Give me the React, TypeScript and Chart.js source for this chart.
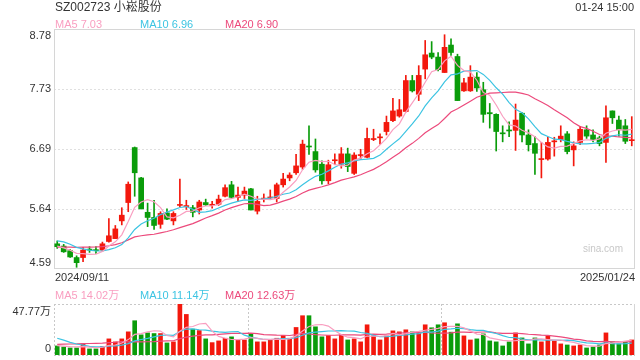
import React, { useEffect, useRef } from "react";
import { Chart, registerables } from "chart.js";
Chart.register(...registerables);

const FONT = '"Liberation Sans", Arial, "Noto Sans CJK SC", sans-serif';

const dates = [
  "2024/09/11","2024/09/12","2024/09/13","2024/09/18","2024/09/19","2024/09/20","2024/09/23","2024/09/24","2024/09/25","2024/09/26","2024/09/27","2024/09/30",
  "2024/10/08","2024/10/09","2024/10/10","2024/10/11","2024/10/14","2024/10/15","2024/10/16","2024/10/17","2024/10/18","2024/10/21","2024/10/22","2024/10/23","2024/10/24","2024/10/25","2024/10/28","2024/10/29","2024/10/30","2024/10/31",
  "2024/11/01","2024/11/04","2024/11/05","2024/11/06","2024/11/07","2024/11/08","2024/11/11","2024/11/12","2024/11/13","2024/11/14","2024/11/15","2024/11/18","2024/11/19","2024/11/20","2024/11/21","2024/11/22","2024/11/25","2024/11/26","2024/11/27","2024/11/28","2024/11/29",
  "2024/12/02","2024/12/03","2024/12/04","2024/12/05","2024/12/06","2024/12/09","2024/12/10","2024/12/11","2024/12/12","2024/12/13","2024/12/16","2024/12/17","2024/12/18","2024/12/19","2024/12/20","2024/12/23","2024/12/24","2024/12/25","2024/12/26","2024/12/27","2024/12/30","2024/12/31",
  "2025/01/02","2025/01/03","2025/01/06","2025/01/07","2025/01/08","2025/01/09","2025/01/10","2025/01/13","2025/01/14","2025/01/15","2025/01/16","2025/01/17","2025/01/20","2025/01/21","2025/01/22","2025/01/23","2025/01/24",
];

const opens = [
  5.03,4.99,4.91,4.79,4.79,4.93,4.92,4.92,5.07,5.12,5.43,5.75,6.71,6.18,5.58,5.49,5.37,5.57,5.43,5.70,
  5.68,5.66,5.62,5.75,5.70,5.72,5.86,6.06,5.84,5.88,5.99,5.60,5.81,5.83,5.82,6.06,6.18,6.27,6.37,6.73,
  6.64,6.42,6.13,6.48,6.42,6.60,6.26,6.57,6.54,6.85,6.88,6.99,7.18,7.26,7.34,7.88,7.64,8.08,8.36,8.29,
  8.02,8.50,8.30,7.70,7.70,7.94,7.72,7.32,7.29,6.96,7.01,7.01,7.31,6.93,6.78,6.50,6.51,6.81,6.85,6.95,
  6.67,6.80,7.02,6.93,6.88,6.80,7.35,7.19,7.09,6.83,
];
const highs = [
  5.08,5.02,4.93,4.82,4.97,4.98,4.98,5.06,5.47,5.35,5.66,6.11,6.72,6.19,5.74,5.79,5.59,5.64,5.59,6.16,
  5.79,5.70,5.79,5.81,5.77,5.88,6.06,6.12,6.02,6.02,6.00,5.86,5.90,5.97,6.09,6.26,6.27,6.59,6.84,7.09,
  6.86,6.48,6.49,6.60,6.71,6.70,6.62,6.68,7.05,7.03,6.95,7.26,7.57,7.55,7.97,7.97,8.14,8.58,8.56,8.37,
  8.68,8.61,8.34,7.92,8.14,8.02,7.85,7.48,7.30,7.09,7.16,7.47,7.32,7.02,6.90,6.80,6.89,6.89,7.09,6.99,
  6.81,7.08,7.09,7.02,6.91,7.44,7.35,7.26,7.20,7.25,
];
const lows = [
  4.95,4.88,4.79,4.62,4.72,4.88,4.86,4.90,5.06,5.12,5.36,5.59,5.86,5.64,5.33,5.28,5.30,5.45,5.36,5.68,
  5.63,5.50,5.55,5.70,5.65,5.70,5.85,5.82,5.77,5.82,5.62,5.55,5.76,5.81,5.76,6.02,6.13,6.24,6.33,6.59,
  6.28,6.07,6.08,6.41,6.35,6.29,6.24,6.50,6.53,6.83,6.77,6.93,7.16,7.24,7.33,7.68,7.53,7.91,8.26,8.05,
  8.02,8.32,7.53,7.69,7.69,7.69,7.15,7.05,6.65,6.81,6.90,6.66,6.81,6.65,6.24,6.18,6.49,6.56,6.81,6.60,
  6.39,6.76,6.87,6.81,6.74,6.45,7.13,6.91,6.78,6.74,
];
const closes = [
  4.98,4.89,4.80,4.70,4.92,4.92,4.91,5.03,5.17,5.29,5.53,6.07,6.27,5.64,5.49,5.35,5.56,5.46,5.56,5.71,
  5.69,5.58,5.76,5.71,5.72,5.81,6.01,5.84,5.88,5.95,5.62,5.77,5.82,5.84,6.06,6.16,6.23,6.39,6.77,6.72,
  6.32,6.13,6.41,6.49,6.60,6.38,6.58,6.58,6.87,6.86,6.89,7.15,7.35,7.37,7.88,7.70,7.97,8.33,8.29,8.07,
  8.46,8.37,7.53,7.84,7.94,7.75,7.29,7.30,6.99,6.95,7.00,7.19,6.93,6.76,6.61,6.51,6.80,6.82,6.91,6.64,
  6.74,7.03,6.91,6.85,6.78,7.23,7.23,7.02,6.82,6.84,
];
// volume, 万股
const volumes = [
  8.5,7.5,6.6,6.6,10.4,5.7,5.7,7.9,15.1,12.3,15.1,21.7,32.1,18.9,20.7,20.1,20.1,11.3,12.3,47.77,
  38.0,24.2,22.9,15.1,11.6,13.2,15.7,17.0,14.1,14.1,20.1,12.3,12.3,14.1,15.7,18.2,15.7,25.8,36.8,36.8,
  26.4,17.0,18.2,15.1,18.9,14.1,15.1,12.3,28.3,18.0,14.1,17.9,22.6,21.7,23.6,21.7,20.7,28.3,25.5,28.3,
  30.2,21.4,29.2,17.9,14.1,15.1,19.8,13.2,12.3,8.5,12.3,20.7,16.0,10.4,16.0,12.3,17.9,13.2,10.4,9.4,
  8.5,9.4,6.6,7.5,9.4,20.7,12.3,10.4,12.3,14.1,
];
// sessions before the visible window (inferred from where the MA lines start)
const prevCloses = [4.80,4.82,4.85,4.83,4.88,4.86,4.90,4.88,4.92,4.86,5.05,5.22,5.25,5.18,5.15,5.05,5.00,4.97,4.95];
const prevVolumes = [4.0,4.5,4.0,4.2,4.5,4.3,4.2,4.5,4.4,4.4,25,28,22,20,18,10,9,8,8.5];

const priceTicks = [4.59, 5.64, 6.69, 7.73, 8.78];
const volTicks = [0, 47.77];

const RED = "#f3180d";
const GREEN = "#0a9c0a";
const C_MA5 = "#f99ec0";
const C_MA10 = "#3cc4e2";
const C_MA20 = "#ec4a7c";

function movingAvg(prev: number[], vals: number[], n: number) {
  const all = prev.concat(vals);
  const off = prev.length;
  return vals.map((_, i) => {
    let s = 0;
    for (let k = 0; k < n; k++) s += all[off + i - k];
    return s / n;
  });
}

const candleColors = closes.map((c, i) => (c >= opens[i] ? RED : GREEN));

const pricePlugin = {
  id: "priceDeco",
  beforeDatasetsDraw(chart: any) {
    const { ctx, chartArea: a, scales } = chart;
    const y = scales.y;
    ctx.save();
    ctx.lineWidth = 1;
    ctx.strokeStyle = "#e0e0e0";
    ctx.setLineDash([2, 2]);
    for (const t of priceTicks.slice(1, -1)) {
      const py = Math.round(y.getPixelForValue(t)) + 0.5;
      ctx.beginPath();
      ctx.moveTo(a.left, py);
      ctx.lineTo(a.right, py);
      ctx.stroke();
    }
    ctx.setLineDash([]);
    ctx.strokeStyle = "#d6d6d6";
    ctx.strokeRect(Math.round(a.left) + 0.5, Math.round(a.top) + 0.5, Math.round(a.right - a.left) - 1, Math.round(a.bottom - a.top) - 1);
    ctx.fillStyle = "#c8c8c8";
    ctx.font = "10px " + FONT;
    ctx.textAlign = "right";
    ctx.textBaseline = "middle";
    ctx.fillText("sina.com", a.right - 12, a.bottom - 20);
    ctx.restore();
  },
  afterDraw(chart: any) {
    const { ctx, chartArea: a, scales } = chart;
    const y = scales.y;
    ctx.save();
    ctx.fillStyle = "#333";
    ctx.font = "11px " + FONT;
    ctx.textAlign = "right";
    priceTicks.forEach((t, i) => {
      const py = y.getPixelForValue(t);
      if (i === 0) { ctx.textBaseline = "bottom"; ctx.fillText(t.toFixed(2), a.left - 3, py - 1); }
      else if (i === priceTicks.length - 1) { ctx.textBaseline = "top"; ctx.fillText(t.toFixed(2), a.left - 3, py + 1); }
      else { ctx.textBaseline = "middle"; ctx.fillText(t.toFixed(2), a.left - 3, py); }
    });
    ctx.textBaseline = "middle";
    ctx.textAlign = "left";
    ctx.fillText(dates[0], a.left + 1, a.bottom + 9);
    ctx.textAlign = "right";
    ctx.fillText(dates[dates.length - 1], a.right, a.bottom + 9);
    ctx.restore();
  },
};

const volPlugin = {
  id: "volDeco",
  beforeDatasetsDraw(chart: any) {
    const { ctx, chartArea: a } = chart;
    ctx.save();
    ctx.lineWidth = 1;
    ctx.strokeStyle = "#c8c8c8";
    ctx.setLineDash([2, 2]);
    const t = Math.round(a.top) + 0.5;
    const b = Math.round(a.bottom) + 0.5;
    const l = Math.round(a.left) + 0.5;
    const r = Math.round(a.right) - 0.5;
    ctx.beginPath();
    ctx.moveTo(a.left, t); ctx.lineTo(a.right, t);
    ctx.moveTo(a.left, b); ctx.lineTo(a.right, b);
    ctx.moveTo(l, a.top); ctx.lineTo(l, a.bottom);
    for (const f of [1 / 3, 2 / 3]) {
      const x = Math.round(a.left + (a.right - a.left) * f) + 0.5;
      ctx.moveTo(x, a.top); ctx.lineTo(x, a.bottom);
    }
    ctx.stroke();
    ctx.setLineDash([]);
    ctx.strokeStyle = "#d6d6d6";
    ctx.beginPath();
    ctx.moveTo(r, a.top); ctx.lineTo(r, a.bottom);
    ctx.stroke();
    ctx.restore();
  },
  afterDraw(chart: any) {
    const { ctx, chartArea: a, scales } = chart;
    const y = scales.y;
    ctx.save();
    ctx.fillStyle = "#333";
    ctx.font = "11px " + FONT;
    ctx.textAlign = "right";
    ctx.textBaseline = "top";
    ctx.fillText(volTicks[1].toFixed(2) + "万", a.left - 3, y.getPixelForValue(volTicks[1]) + 2);
    ctx.textBaseline = "bottom";
    ctx.fillText(String(volTicks[0]), a.left - 3, y.getPixelForValue(volTicks[0]) - 1);
    ctx.restore();
  },
};

function lineDs(label: string, data: number[], color: string) {
  return {
    type: "line" as const,
    label,
    data,
    borderColor: color,
    backgroundColor: color,
    borderWidth: 1.2,
    pointRadius: 0,
    tension: 0,
    order: 0,
  };
}

export default function App() {
  const priceRef = useRef<HTMLCanvasElement>(null);
  const volRef = useRef<HTMLCanvasElement>(null);

  useEffect(() => {
    document.body.style.margin = "0";
    const ma5 = movingAvg(prevCloses, closes, 5);
    const ma10 = movingAvg(prevCloses, closes, 10);
    const ma20 = movingAvg(prevCloses, closes, 20);
    const vma5 = movingAvg(prevVolumes, volumes, 5);
    const vma10 = movingAvg(prevVolumes, volumes, 10);
    const vma20 = movingAvg(prevVolumes, volumes, 20);

    const price = new Chart(priceRef.current as HTMLCanvasElement, {
      type: "bar",
      data: {
        labels: dates,
        datasets: [
          lineDs("MA5", ma5, C_MA5),
          lineDs("MA10", ma10, C_MA10),
          lineDs("MA20", ma20, C_MA20),
          {
            type: "bar",
            label: "body",
            data: opens.map((o, i) => [o, closes[i]]),
            backgroundColor: candleColors,
            barThickness: 5,
            minBarLength: 1,
            grouped: false,
            borderWidth: 0,
            order: 1,
          } as any,
          {
            type: "bar",
            label: "wick",
            data: lows.map((lo, i) => [lo, highs[i]]),
            backgroundColor: candleColors,
            barThickness: 1,
            grouped: false,
            borderWidth: 0,
            order: 2,
          } as any,
        ],
      },
      options: {
        animation: false,
        responsive: false,
        events: [],
        layout: { padding: { left: 54, right: 5, top: 29, bottom: 91 } },
        plugins: { legend: { display: false }, tooltip: { enabled: false } },
        scales: {
          x: { display: false, offset: true },
          y: { display: false, min: priceTicks[0], max: priceTicks[priceTicks.length - 1] },
        },
      },
      plugins: [pricePlugin],
    } as any);

    const vol = new Chart(volRef.current as HTMLCanvasElement, {
      type: "bar",
      data: {
        labels: dates,
        datasets: [
          lineDs("MA5", vma5, C_MA5),
          lineDs("MA10", vma10, C_MA10),
          lineDs("MA20", vma20, C_MA20),
          {
            type: "bar",
            label: "vol",
            data: volumes,
            backgroundColor: candleColors,
            barThickness: 4,
            grouped: false,
            borderWidth: 0,
            order: 1,
          } as any,
        ],
      },
      options: {
        animation: false,
        responsive: false,
        events: [],
        layout: { padding: { left: 54, right: 5, top: 304, bottom: 5 } },
        plugins: { legend: { display: false }, tooltip: { enabled: false } },
        scales: {
          x: { display: false, offset: true },
          y: { display: false, min: volTicks[0], max: volTicks[1] },
        },
      },
      plugins: [volPlugin],
    } as any);

    return () => {
      price.destroy();
      vol.destroy();
    };
  }, []);

  const txt = (left: number, top: number, size: number, color: string, s: string, extra: any = {}) => (
    <div style={{ position: "absolute", left, top, fontSize: size, lineHeight: size + 3 + "px", color, whiteSpace: "nowrap", ...extra }}>{s}</div>
  );

  return (
    <div style={{ position: "relative", width: 640, height: 360, background: "#fff", overflow: "hidden", fontFamily: FONT }}>
      <canvas ref={priceRef} width={640} height={360} style={{ position: "absolute", left: 0, top: 0 }} />
      <canvas ref={volRef} width={640} height={360} style={{ position: "absolute", left: 0, top: 0 }} />
      {txt(55, 0, 12, "#333", "SZ002723 小崧股份")}
      <div style={{ position: "absolute", right: 6, top: 0, fontSize: 11, lineHeight: "14px", color: "#333", whiteSpace: "nowrap" }}>01-24 15:00</div>
      {txt(55, 17, 11, C_MA5, "MA5 7.03")}
      {txt(140, 17, 11, C_MA10, "MA10 6.96")}
      {txt(225, 17, 11, C_MA20, "MA20 6.90")}
      {txt(55, 288, 11, C_MA5, "MA5 14.02万")}
      {txt(140, 288, 11, C_MA10, "MA10 11.14万")}
      {txt(225, 288, 11, C_MA20, "MA20 12.63万")}
    </div>
  );
}
